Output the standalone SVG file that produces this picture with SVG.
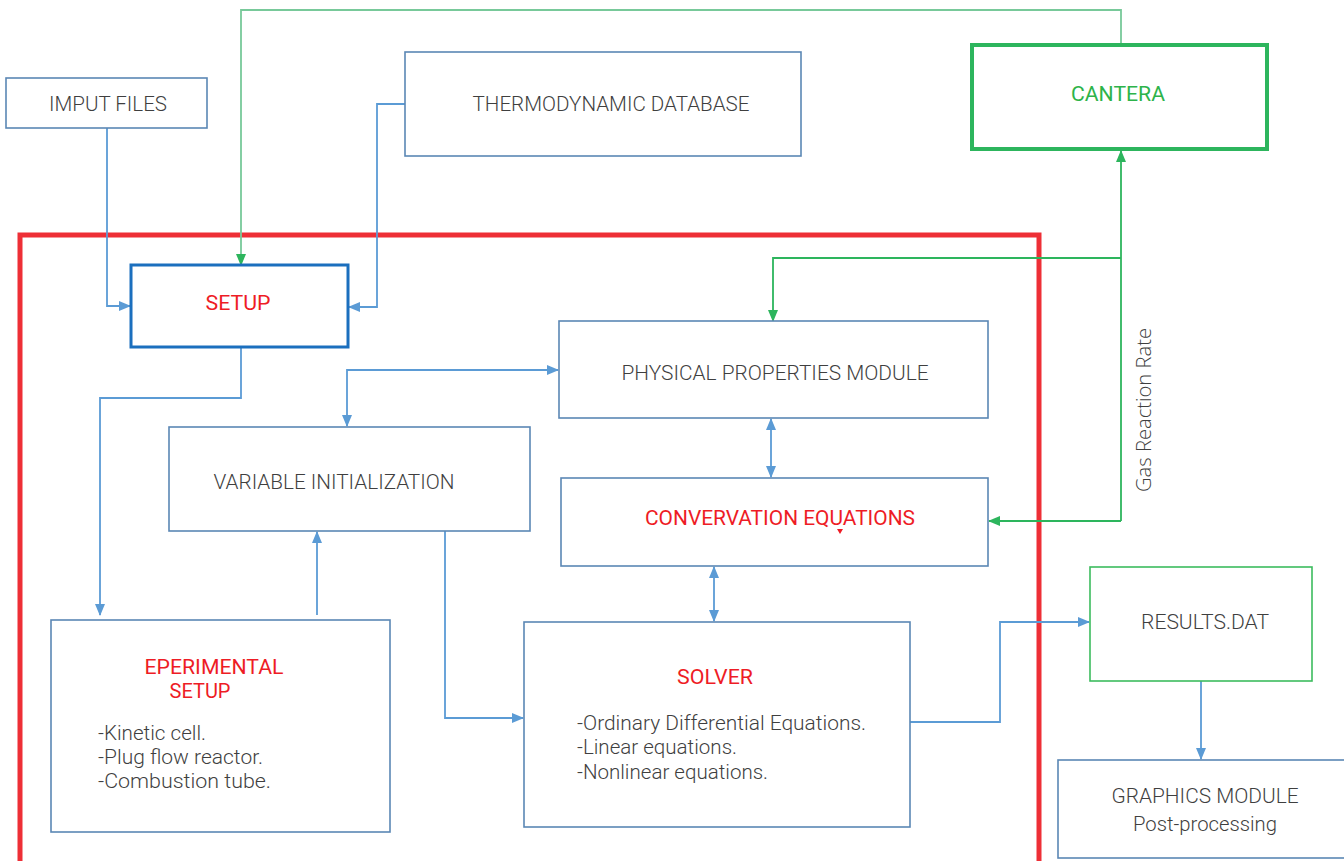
<svg xmlns="http://www.w3.org/2000/svg" width="1344" height="861" viewBox="0 0 1344 861">
<style>
.box{fill:#fff;stroke:#5b87b5;stroke-width:1.6}
.t{font-family:Roboto,"Liberation Sans",sans-serif;font-size:20px;fill:#3f3f3f;font-weight:300;text-anchor:middle}
.r{fill:#ee1c25;font-weight:400}
.g{fill:#2db34a;font-weight:400}
.l{font-family:Roboto,"Liberation Sans",sans-serif;font-size:20px;fill:#3f3f3f;font-weight:300}
.cb{fill:none;stroke:#5b9bd5;stroke-width:1.8}
.cg{fill:none;stroke:#2db55d;stroke-width:1.8}
</style>
<defs>
<marker id="ab" markerUnits="userSpaceOnUse" markerWidth="12" markerHeight="12" viewBox="0 0 12 12" refX="11" refY="6" orient="auto-start-reverse"><path d="M0,1 L12,6 L0,11 Z" fill="#5b9bd5"/></marker>
<marker id="ag" markerUnits="userSpaceOnUse" markerWidth="12" markerHeight="12" viewBox="0 0 12 12" refX="11" refY="6" orient="auto-start-reverse"><path d="M0,1 L12,6 L0,11 Z" fill="#2db55d"/></marker>
</defs>
<rect width="1344" height="861" fill="#fff"/>
<rect id="frame" x="20" y="235" width="1019" height="640" fill="none" stroke="#ee2f36" stroke-width="5"/>
<g id="connectors">
<path class="cb" d="M107,128 V306 H130" marker-end="url(#ab)"/>
<path class="cb" d="M405,104 H377 V307 H349" marker-end="url(#ab)"/>
<path class="cg" d="M1121,44 V10 H241 V265" marker-end="url(#ag)" style="stroke:#78c99a"/>
<path class="cg" d="M1121,521 V151" marker-end="url(#ag)"/>
<path class="cg" d="M1121,521 H989" marker-end="url(#ag)"/>
<path class="cg" d="M1121,258 H773 V321" marker-end="url(#ag)"/>
<path class="cb" d="M241,347 V398 H100 V615" marker-end="url(#ab)"/>
<path class="cb" d="M347,426 V370 H558" marker-start="url(#ab)" marker-end="url(#ab)"/>
<path class="cb" d="M317,615 V532" marker-end="url(#ab)"/>
<path class="cb" d="M445,531 V718 H523" marker-end="url(#ab)"/>
<path class="cb" d="M771,419 V477" marker-start="url(#ab)" marker-end="url(#ab)"/>
<path class="cb" d="M714,567 V621" marker-start="url(#ab)" marker-end="url(#ab)"/>
<path class="cb" d="M910,722 H1000 V622 H1089" marker-end="url(#ab)"/>
<path class="cb" d="M1201,681 V759" marker-end="url(#ab)"/>
</g>
<g id="imput"><rect class="box" x="6" y="78" width="201" height="50"/><text class="t" x="108" y="111" textLength="118" lengthAdjust="spacingAndGlyphs">IMPUT FILES</text></g>
<g id="thermo"><rect class="box" x="405" y="52" width="396" height="104"/><text class="t" x="611" y="111" textLength="277" lengthAdjust="spacingAndGlyphs">THERMODYNAMIC DATABASE</text></g>
<g id="cantera"><rect x="972" y="45" width="295" height="104" fill="#fff" stroke="#2db55d" stroke-width="4"/><text class="t g" x="1118" y="101" textLength="94" lengthAdjust="spacingAndGlyphs">CANTERA</text></g>
<g id="setup"><rect x="131" y="265" width="217" height="82" fill="#fff" stroke="#1b6fbe" stroke-width="3"/><text class="t r" x="238" y="310" textLength="65" lengthAdjust="spacingAndGlyphs">SETUP</text></g>
<g id="phys"><rect class="box" x="559" y="321" width="429" height="97"/><text class="t" x="775" y="380" textLength="307" lengthAdjust="spacingAndGlyphs">PHYSICAL PROPERTIES MODULE</text></g>
<g id="varinit"><rect class="box" x="169" y="427" width="361" height="104"/><text class="t" x="334" y="489" textLength="241" lengthAdjust="spacingAndGlyphs">VARIABLE INITIALIZATION</text></g>
<g id="conv"><rect class="box" x="561" y="478" width="427" height="88"/><text class="t r" x="780" y="525" textLength="270" lengthAdjust="spacingAndGlyphs">CONVERVATION EQUATIONS</text><path d="M837,529 L843,529 L840,534 Z" fill="#ee1c25"/></g>
<g id="exp"><rect class="box" x="51" y="620" width="339" height="212"/>
<text class="t r" x="214" y="674" textLength="139" lengthAdjust="spacingAndGlyphs">EPERIMENTAL</text>
<text class="t r" x="200" y="698" textLength="61" lengthAdjust="spacingAndGlyphs">SETUP</text>
<text class="l" x="98" y="740" textLength="108" lengthAdjust="spacingAndGlyphs">-Kinetic cell.</text>
<text class="l" x="98" y="764" textLength="165" lengthAdjust="spacingAndGlyphs">-Plug flow reactor.</text>
<text class="l" x="98" y="788" textLength="173" lengthAdjust="spacingAndGlyphs">-Combustion tube.</text></g>
<g id="solver"><rect class="box" x="524" y="622" width="386" height="205"/>
<text class="t r" x="715" y="684" textLength="76" lengthAdjust="spacingAndGlyphs">SOLVER</text>
<text class="l" x="577" y="730" textLength="289" lengthAdjust="spacingAndGlyphs">-Ordinary Differential Equations.</text>
<text class="l" x="577" y="754" textLength="160" lengthAdjust="spacingAndGlyphs">-Linear equations.</text>
<text class="l" x="577" y="779" textLength="191" lengthAdjust="spacingAndGlyphs">-Nonlinear equations.</text></g>
<g id="results"><rect x="1090" y="567" width="222" height="114" fill="#fff" stroke="#3cbc5e" stroke-width="1.6"/><text class="t" x="1205" y="629" textLength="128" lengthAdjust="spacingAndGlyphs">RESULTS.DAT</text></g>
<g id="graphics"><rect class="box" x="1058" y="760" width="290" height="98"/><text class="t" x="1205" y="803" textLength="187" lengthAdjust="spacingAndGlyphs">GRAPHICS MODULE</text><text class="t" x="1205" y="831" textLength="144" lengthAdjust="spacingAndGlyphs">Post-processing</text></g>
<text x="1151" y="410" transform="rotate(-90 1151 410)" text-anchor="middle" font-family="'Open Sans',sans-serif" font-weight="300" font-size="20" fill="#3f3f3f" textLength="164" lengthAdjust="spacingAndGlyphs">Gas Reaction Rate</text>
</svg>
